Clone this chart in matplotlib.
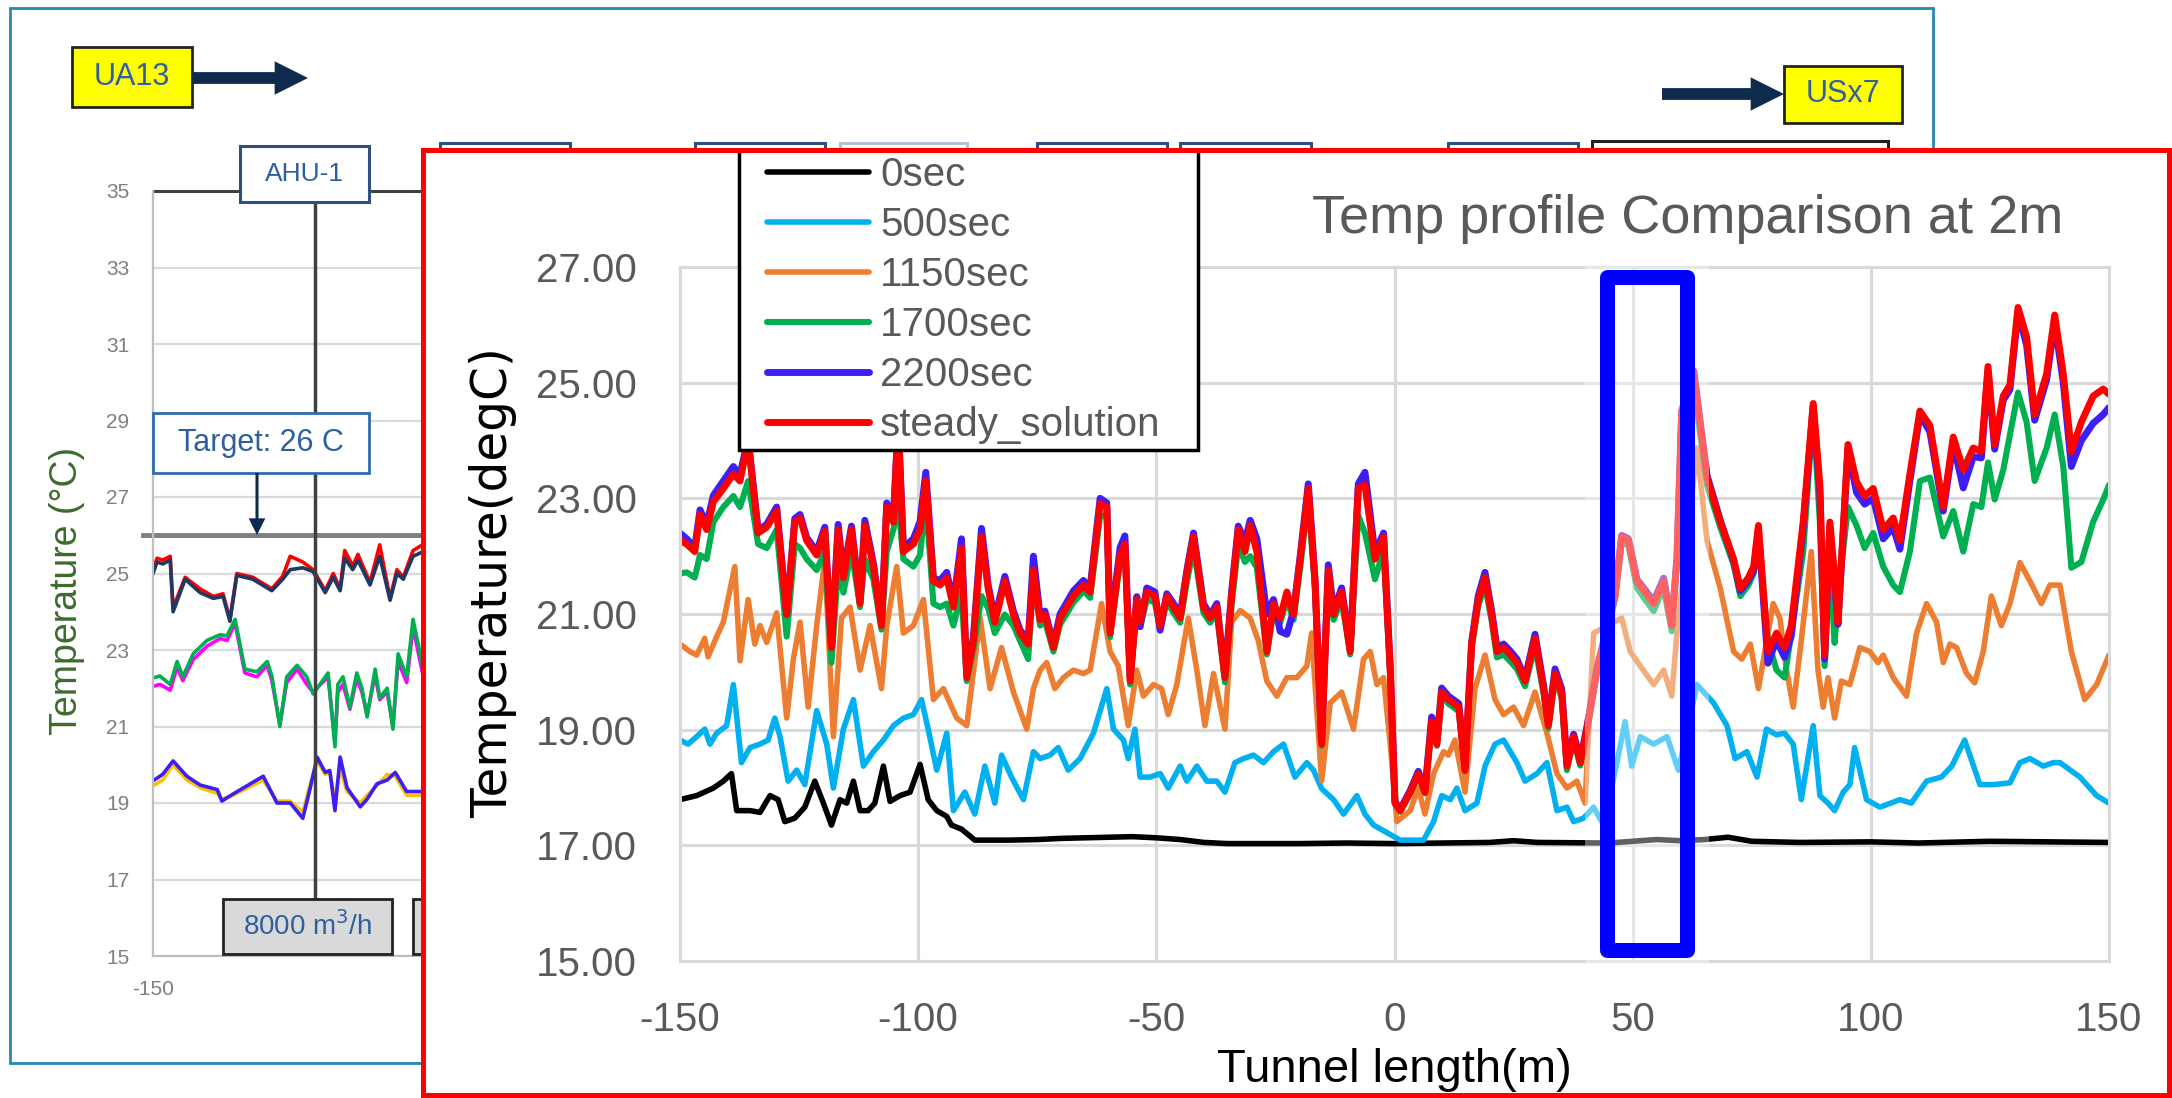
import matplotlib

matplotlib.use("Agg")
import matplotlib.pyplot as plt
from matplotlib.legend_handler import HandlerLine2D
from matplotlib.lines import Line2D
from matplotlib.patches import ArrowStyle, FancyArrowPatch, Rectangle
from matplotlib.ticker import FormatStrFormatter

# ---- main chart data (tunnel position in m, temperature in degC) ----
x_hot = [
    -150.0, -148.6, -146.9, -145.8, -144.4, -143.0, -140.9, -138.8, -137.4, -135.7,
    -133.6, -131.8, -129.7, -127.6, -125.9, -124.8, -123.4, -121.3, -119.6, -118.2,
    -116.8, -115.7, -114.0, -112.2, -111.2, -109.4, -107.7, -106.6, -105.2, -104.2,
    -103.1, -101.0, -99.6, -98.4, -96.8, -95.4, -94.0, -92.6, -90.9, -89.8,
    -88.4, -86.7, -85.3, -83.9, -81.8, -80.0, -78.6, -76.9, -75.8, -74.4,
    -73.4, -71.6, -70.2, -67.4, -65.3, -63.9, -61.8, -60.4, -59.7, -57.6,
    -56.6, -55.5, -54.1, -53.4, -52.0, -50.3, -49.2, -47.8, -46.4, -45.0,
    -43.6, -42.2, -40.1, -38.7, -37.3, -35.6, -34.2, -32.8, -31.4, -30.3,
    -28.9, -26.8, -25.4, -24.0, -22.6, -21.2, -19.8, -18.1, -16.7, -15.3,
    -13.9, -12.8, -11.1, -9.3, -7.6, -6.2, -4.1, -2.3, -0.9, 0.1,
    1.2, 3.3, 5.0, 6.4, 7.8, 8.9, 9.9, 11.3, 13.5, 14.8,
    16.2, 17.6, 19.0, 20.4, 21.5, 22.9, 24.3, 25.7, 27.4, 29.5,
    31.3, 32.3, 33.7, 35.1, 36.2, 37.6, 39.0, 40.4, 42.5, 46.3,
    47.7, 49.1, 50.9, 52.6, 54.4, 56.5, 58.2, 59.3, 60.3, 62.8,
    65.6, 68.4, 71.2, 72.6, 74.3, 75.4, 76.4,
    78.4, 80.2, 81.9, 83.3, 85.8, 87.9, 89.3, 90.3, 91.4, 92.4,
    93.1, 95.2, 97.0, 98.7, 100.5, 102.6, 104.7, 106.1, 108.2, 110.3,
    112.4, 115.2, 117.3, 119.4, 121.5, 123.2, 124.6, 126.0, 127.8, 129.2,
    130.9, 132.7, 134.4, 136.9, 138.6, 140.4, 142.1, 144.2, 146.7, 148.8,
    150.0,
]

t_steady = [
    22.27, 22.21, 22.08, 22.72, 22.46, 22.94, 23.17, 23.42, 23.30, 24.00,
    22.40, 22.50, 22.78, 20.99, 22.59, 22.66, 22.27, 22.02, 22.43, 20.42,
    22.46, 21.63, 22.46, 21.18, 22.53, 21.82, 20.80, 22.85, 22.59, 24.30,
    22.08, 22.21, 22.46, 23.30, 21.57, 21.50, 21.63, 21.12, 22.14, 19.90,
    20.54, 22.34, 21.44, 20.86, 21.57, 20.99, 20.67, 20.48, 21.76, 20.90,
    20.99, 20.42, 20.93, 21.31, 21.50, 21.38, 22.91, 22.85, 20.67, 22.02,
    22.21, 19.84, 21.25, 20.87, 21.38, 21.31, 20.80, 21.31, 21.12, 20.93,
    21.70, 22.34, 21.12, 20.93, 21.12, 19.90, 21.31, 22.46, 22.08, 22.53,
    22.08, 20.35, 21.18, 20.93, 21.38, 20.99, 21.95, 23.17, 21.57, 18.75,
    21.76, 20.99, 21.38, 20.35, 23.17, 23.23, 21.95, 22.34, 20.03, 17.73,
    17.60, 17.92, 18.24, 17.92, 19.14, 18.75, 19.65, 19.52, 19.39, 18.30,
    20.48, 21.25, 21.63, 20.99, 20.35, 20.42, 20.29, 20.16, 19.84, 20.58,
    19.71, 19.07, 19.97, 19.65, 18.37, 18.88, 18.43, 19.01, 20.03, 21.31,
    22.34, 22.27, 21.57, 21.38, 21.18, 21.57, 20.80, 21.95, 24.51, 25.20,
    23.36, 22.59, 21.95, 21.44, 21.63, 21.82, 22.53,
    20.35, 20.67, 20.42, 20.80, 22.59, 24.64, 23.23, 20.29, 22.59, 21.63,
    20.86, 23.93, 23.29, 23.04, 23.17, 22.46, 22.66, 22.27, 23.42, 24.51,
    24.26, 22.85, 24.06, 23.49, 23.87, 23.81, 25.28, 23.93, 24.77, 24.96,
    26.30, 25.79, 24.45, 25.15, 26.17, 25.15, 23.81, 24.32, 24.77, 24.89,
    24.80,
]

t_2200 = [
    22.40, 22.30, 22.15, 22.80, 22.55, 23.05, 23.30, 23.55, 23.40, 24.05,
    22.45, 22.55, 22.85, 21.00, 22.65, 22.72, 22.32, 22.08, 22.50, 20.45,
    22.55, 21.68, 22.52, 21.22, 22.62, 21.88, 20.84, 22.92, 22.65, 24.35,
    22.15, 22.30, 22.60, 23.45, 21.62, 21.58, 21.72, 21.18, 22.30, 19.95,
    20.60, 22.48, 21.50, 20.92, 21.65, 21.05, 20.72, 20.55, 22.00, 20.95,
    21.05, 20.48, 21.00, 21.40, 21.58, 21.45, 23.00, 22.92, 20.72, 22.15,
    22.35, 19.90, 21.30, 20.78, 21.45, 21.38, 20.72, 21.35, 21.18, 20.98,
    21.75, 22.40, 21.18, 20.98, 21.18, 19.95, 21.38, 22.52, 22.25, 22.62,
    22.30, 21.00, 21.25, 20.70, 20.65, 21.05, 22.00, 23.25, 21.62, 18.80,
    21.85, 21.05, 21.45, 20.40, 23.25, 23.45, 22.05, 22.40, 20.08, 17.76,
    17.62, 17.95, 18.28, 17.95, 19.22, 18.80, 19.72, 19.58, 19.45, 18.34,
    20.52, 21.32, 21.72, 21.05, 20.42, 20.48, 20.36, 20.22, 19.88, 20.65,
    19.76, 19.12, 20.05, 19.70, 18.42, 18.92, 18.48, 19.05, 20.06, 21.33,
    22.36, 22.30, 21.60, 21.42, 21.22, 21.62, 20.84, 21.98, 24.50, 25.20,
    23.40, 22.62, 21.92, 21.40, 21.58, 21.75, 22.45,
    20.15, 20.55, 20.25, 20.62, 22.50, 24.60, 23.10, 20.22, 22.50, 21.55,
    20.82, 23.85, 23.10, 22.90, 23.00, 22.30, 22.50, 22.12, 23.30, 24.45,
    24.15, 22.78, 23.95, 23.18, 23.72, 23.70, 25.20, 23.85, 24.70, 24.88,
    26.22, 25.65, 24.35, 25.05, 26.05, 25.00, 23.55, 24.00, 24.30, 24.45,
    24.57,
]

t_1700 = [
    21.70, 21.72, 21.63, 22.02, 21.95, 22.59, 22.85, 23.04, 22.85, 23.30,
    22.21, 22.14, 22.46, 20.61, 22.21, 22.14, 21.95, 21.76, 22.08, 20.16,
    21.82, 21.37, 22.10, 21.12, 21.95, 21.60, 20.73, 22.08, 22.46, 22.90,
    21.95, 21.82, 22.02, 23.00, 21.18, 21.12, 21.18, 20.80, 21.37, 19.84,
    20.40, 21.31, 21.10, 20.67, 20.99, 20.80, 20.54, 20.22, 21.63, 20.80,
    20.88, 20.35, 20.82, 21.20, 21.40, 21.28, 22.70, 22.70, 20.60, 21.92,
    22.10, 19.78, 21.12, 20.78, 21.25, 21.20, 20.72, 21.22, 21.02, 20.85,
    21.55, 22.15, 21.02, 20.85, 21.02, 19.82, 21.15, 22.20, 21.90, 22.00,
    21.80, 20.30, 21.05, 20.85, 21.25, 20.90, 21.80, 23.00, 21.45, 18.72,
    21.65, 20.90, 21.25, 20.30, 22.70, 22.40, 21.60, 22.10, 19.95, 17.72,
    17.58, 17.90, 18.20, 17.90, 19.10, 18.72, 19.60, 19.45, 19.32, 18.28,
    20.42, 21.15, 21.50, 20.88, 20.25, 20.30, 20.18, 20.05, 19.75, 20.45,
    19.62, 19.02, 19.88, 19.55, 18.30, 18.82, 18.38, 18.98, 19.98, 21.25,
    22.25, 22.18, 21.45, 21.25, 21.05, 21.45, 20.70, 21.90, 24.40, 24.96,
    23.23, 22.50, 21.85, 21.31, 21.50, 21.70, 22.30,
    20.55, 20.03, 19.90, 20.67, 22.08, 24.51, 22.59, 20.10, 21.95, 20.50,
    21.30, 22.85, 22.53, 22.14, 22.40, 21.82, 21.50, 21.38, 22.08, 23.30,
    23.36, 22.34, 22.78, 22.08, 22.90, 22.85, 23.62, 22.98, 23.49, 24.10,
    24.83, 24.32, 23.30, 23.87, 24.45, 23.55, 21.80, 21.90, 22.60, 22.98,
    23.23,
]

x_1150 = [
    -150.0, -147.9, -146.5, -144.8, -144.1, -142.3, -140.9, -138.5, -137.4, -135.7,
    -134.3, -133.2, -131.8, -129.7, -127.6, -126.2, -124.8, -123.1, -121.3, -119.6,
    -117.8, -116.1, -114.3, -112.2, -110.1, -107.7, -106.6, -104.5, -103.1, -101.0,
    -98.9, -96.8, -94.7, -91.9, -89.8, -87.0, -84.9, -82.5, -80.0, -77.2,
    -75.8, -74.4, -73.0, -71.3, -69.5, -67.4, -65.3, -63.9, -61.5, -59.7,
    -58.0, -55.9, -54.1, -52.7, -50.6, -48.9, -47.5, -45.7, -43.3, -41.5,
    -39.8, -38.0, -35.6, -34.2, -32.4, -30.3, -28.6, -26.8, -24.7, -22.6,
    -20.5, -18.4, -17.4, -15.3, -13.5, -11.1, -8.6, -6.5, -5.1, -3.7,
    -2.3, -0.9, 0.5, 3.3, 5.0, 6.4, 8.2, 10.3, 11.3, 12.7,
    14.8, 16.9, 19.0, 21.1, 22.9, 25.0, 27.1, 29.5, 32.0, 34.1,
    36.2, 38.3, 40.0, 41.8, 47.7, 49.5, 51.6, 54.4, 56.5, 58.2,
    59.3, 63.5, 65.6, 68.4, 71.2, 72.9, 74.7, 76.4, 79.5, 80.9,
    82.3, 83.7, 85.4, 87.5, 88.9, 90.0, 91.0, 92.4, 93.8, 95.6,
    97.7, 99.8, 101.5, 102.6, 104.7, 107.5, 109.6, 111.7, 113.8, 115.2,
    116.6, 118.0, 120.1, 121.8, 123.6, 125.3, 127.4, 129.2, 131.3, 133.4,
    135.8, 137.6, 139.7, 142.1, 144.9, 147.4, 150.0,
]

t_1150 = [
    20.48, 20.35, 20.29, 20.58, 20.26, 20.61, 20.86, 21.82, 20.19, 21.25,
    20.48, 20.80, 20.51, 21.02, 19.20, 20.22, 20.86, 19.39, 20.80, 21.95,
    18.88, 20.93, 21.12, 20.03, 20.80, 19.71, 20.80, 21.82, 20.67, 20.80,
    21.25, 19.52, 19.71, 19.20, 19.07, 20.93, 19.71, 20.42, 19.65, 19.01,
    19.71, 20.03, 20.16, 19.71, 19.90, 20.03, 19.97, 20.03, 21.18, 20.35,
    20.10, 19.07, 20.03, 19.58, 19.78, 19.71, 19.26, 19.78, 20.93, 20.03,
    19.07, 19.97, 19.01, 20.86, 21.06, 20.93, 20.54, 19.84, 19.58, 19.90,
    19.90, 20.10, 20.67, 18.11, 19.46, 19.65, 19.01, 20.22, 20.35, 19.78,
    19.90, 18.75, 17.41, 17.60, 17.99, 17.54, 18.24, 18.62, 18.56, 18.82,
    17.92, 19.71, 20.29, 19.52, 19.26, 19.39, 19.07, 19.65, 18.94, 18.24,
    17.99, 18.11, 17.73, 20.67, 20.93, 20.35, 20.10, 19.78, 20.03, 19.58,
    20.67, 23.87, 22.27, 21.44, 20.35, 20.22, 20.48, 19.71, 21.18, 20.93,
    20.03, 19.39, 20.54, 22.08, 20.03, 19.39, 19.90, 19.20, 19.84, 19.78,
    20.42, 20.35, 20.16, 20.29, 19.90, 19.58, 20.67, 21.18, 20.86, 20.16,
    20.48, 20.42, 19.97, 19.81, 20.35, 21.31, 20.80, 21.18, 21.89, 21.57,
    21.18, 21.50, 21.50, 20.35, 19.52, 19.78, 20.29,
]

x_500 = [
    -150.0, -148.3, -146.5, -144.8, -143.7, -142.3, -140.2, -138.8, -137.1, -135.3,
    -133.2, -131.5, -130.1, -129.0, -127.3, -125.5, -123.8, -121.3, -119.2, -117.8,
    -115.7, -113.6, -111.5, -109.4, -107.3, -105.2, -103.1, -101.0, -99.3, -97.9,
    -96.1, -94.0, -92.6, -90.2, -88.1, -86.0, -83.9, -82.5, -80.4, -77.9,
    -75.8, -74.4, -72.3, -70.6, -68.5, -66.0, -63.2, -60.4, -59.0, -56.9,
    -55.9, -54.5, -53.4, -51.3, -49.2, -47.5, -45.0, -43.6, -41.5, -39.4,
    -37.3, -35.6, -33.5, -31.7, -29.6, -27.5, -25.4, -23.3, -20.9, -18.4,
    -17.0, -15.3, -12.8, -10.7, -7.9, -6.2, -4.4, -1.6, 1.2, 6.1,
    8.2, 9.9, 11.7, 13.1, 14.8, 17.3, 19.0, 21.1, 22.9, 25.7,
    27.4, 29.9, 32.0, 34.1, 36.2, 37.6, 39.7, 41.8, 43.9, 46.7,
    48.4, 49.8, 51.6, 54.4, 57.2, 59.6, 63.5, 67.0, 69.8, 71.5,
    74.0, 76.1, 78.1, 80.2, 81.9, 83.7, 85.4, 87.9, 89.3, 91.0,
    92.4, 94.2, 95.6, 96.6, 99.1, 101.9, 106.1, 108.5, 111.7, 114.8,
    117.0, 119.7, 122.9, 125.7, 129.2, 131.3, 133.4, 136.2, 138.3, 139.7,
    143.9, 147.4, 150.0,
]

t_500 = [
    18.82, 18.75, 18.88, 19.01, 18.75, 18.94, 19.07, 19.78, 18.43, 18.69,
    18.75, 18.82, 19.20, 18.88, 18.11, 18.30, 18.05, 19.33, 18.75, 17.99,
    19.01, 19.52, 18.37, 18.62, 18.82, 19.07, 19.20, 19.26, 19.52, 19.01,
    18.30, 18.94, 17.60, 17.92, 17.54, 18.37, 17.73, 18.56, 18.18, 17.79,
    18.62, 18.50, 18.56, 18.69, 18.30, 18.50, 18.94, 19.71, 19.01, 18.82,
    18.50, 19.01, 18.18, 18.18, 18.24, 17.99, 18.37, 18.11, 18.37, 18.11,
    18.11, 17.92, 18.43, 18.50, 18.56, 18.43, 18.62, 18.75, 18.18, 18.43,
    18.30, 17.98, 17.79, 17.54, 17.86, 17.54, 17.35, 17.22, 17.09, 17.09,
    17.41, 17.86, 17.79, 17.99, 17.60, 17.73, 18.37, 18.75, 18.82, 18.43,
    18.11, 18.24, 18.43, 17.60, 17.66, 17.41, 17.47, 17.66, 17.35, 18.43,
    19.14, 18.37, 18.88, 18.75, 18.88, 18.30, 19.78, 19.46, 19.07, 18.50,
    18.62, 18.18, 19.01, 18.91, 18.94, 18.75, 17.79, 19.07, 17.86, 17.73,
    17.60, 17.92, 18.05, 18.69, 17.79, 17.66, 17.79, 17.73, 18.11, 18.18,
    18.37, 18.82, 18.05, 18.05, 18.08, 18.43, 18.50, 18.37, 18.43, 18.43,
    18.18, 17.86, 17.73,
]

x_0 = [
    -150.0, -146.5, -143.0, -140.9, -139.2, -138.1, -135.3, -133.2, -131.1, -129.4,
    -128.0, -125.9, -123.8, -121.7, -119.9, -118.2, -116.4, -115.0, -113.6, -112.2,
    -110.5, -109.1, -107.3, -105.9, -103.8, -101.7, -99.6, -97.9, -96.1, -94.0,
    -93.0, -90.9, -88.1, -84.9, -80.7, -75.0, -70.0, -65.0, -60.0, -55.0,
    -50.0, -45.0, -40.0, -35.0, -20.0, -10.0, 0.0, 10.0, 20.0, 25.0,
    30.0, 45.0, 55.0, 60.0, 65.0, 70.0, 75.0, 85.0, 100.0, 110.0,
    125.0, 150.0,
]

t_0 = [
    17.79, 17.86, 17.99, 18.11, 18.24, 17.60, 17.60, 17.57, 17.86, 17.79,
    17.41, 17.47, 17.66, 18.11, 17.73, 17.35, 17.79, 17.73, 18.11, 17.60,
    17.60, 17.73, 18.37, 17.76, 17.86, 17.92, 18.40, 17.79, 17.60, 17.50,
    17.35, 17.28, 17.09, 17.09, 17.09, 17.10, 17.12, 17.13, 17.14, 17.15,
    17.13, 17.10, 17.05, 17.03, 17.03, 17.04, 17.03, 17.04, 17.05, 17.08,
    17.05, 17.04, 17.10, 17.08, 17.10, 17.14, 17.07, 17.05, 17.06, 17.04,
    17.07, 17.05,
]

# highlighted section of the tunnel (m) and its temperature span
box_x = [44.6, 61.4]
box_t = [15.19, 26.82]

# ---- background chart data (only its left end is visible) ----
bg_x_top = [
    -150.0, -149.3, -148.3, -147.0, -146.5, -144.4, -141.8, -139.5, -137.8, -136.6,
    -135.4, -132.6, -129.3, -127.4, -126.1, -123.9, -122.1, -120.0, -118.6, -117.4,
    -116.6, -115.2, -114.3, -112.2, -110.5, -108.7, -107.5, -106.4, -104.7, -102.5,
]
bg_red = [
    25.10, 25.40, 25.35, 25.45, 24.10, 24.90, 24.60, 24.40, 24.47, 23.80,
    25.00, 24.90, 24.60, 24.93, 25.45, 25.30, 25.10, 24.55, 25.00, 24.60,
    25.60, 25.20, 25.50, 24.76, 25.75, 24.35, 25.10, 24.90, 25.60, 25.80,
]
bg_navy = [
    25.00, 25.30, 25.25, 25.35, 24.00, 24.85, 24.50, 24.35, 24.40, 23.75,
    24.95, 24.85, 24.55, 24.85, 25.10, 25.15, 25.05, 24.50, 24.90, 24.55,
    25.40, 25.10, 25.35, 24.70, 25.45, 24.30, 25.00, 24.85, 25.45, 25.60,
]

bg_x_mid = [
    -150.0, -148.8, -147.0, -145.8, -144.8, -143.0, -140.6, -138.3, -137.1, -135.7,
    -134.0, -131.9, -130.1, -129.3, -127.9, -126.7, -124.9, -123.2, -122.1, -119.5,
    -118.3, -117.8, -116.9, -115.7, -114.5, -113.6, -112.7, -111.3, -110.5, -109.2,
    -108.2, -107.3, -105.8, -104.7, -102.5,
]
bg_green = [
    22.27, 22.32, 22.10, 22.70, 22.30, 22.90, 23.25, 23.40, 23.37, 23.80,
    22.50, 22.43, 22.70, 22.32, 21.00, 22.30, 22.60, 22.30, 21.85, 22.40,
    20.47, 22.10, 22.30, 21.50, 22.40, 22.00, 21.25, 22.50, 21.75, 22.00,
    20.93, 22.90, 22.30, 23.80, 22.20,
]
bg_magenta = [
    22.05, 22.10, 21.95, 22.55, 22.20, 22.75, 23.10, 23.30, 23.25, 23.70,
    22.40, 22.30, 22.60, 22.20, 21.05, 22.15, 22.50, 22.10, 21.90, 22.30,
    20.60, 21.90, 22.10, 21.45, 22.25, 21.90, 21.30, 22.35, 21.70, 21.90,
    21.00, 22.70, 22.15, 23.60, 22.00,
]

bg_x_low = [
    -150.0, -148.3, -146.5, -144.1, -141.8, -138.8, -138.0, -136.1, -130.8, -128.4,
    -126.1, -123.9, -122.6, -121.4, -120.0, -119.2, -118.3, -117.4, -116.2, -113.9,
    -112.7, -111.0, -109.2, -107.8, -105.8, -102.5,
]
bg_blue = [
    19.58, 19.75, 20.10, 19.70, 19.47, 19.35, 19.05, 19.23, 19.70, 19.00,
    19.00, 18.60, 19.40, 20.20, 19.80, 19.85, 18.80, 20.20, 19.40, 18.90,
    19.10, 19.50, 19.60, 19.80, 19.30, 19.30,
]
bg_orange = [
    19.45, 19.60, 20.00, 19.60, 19.40, 19.25, 19.10, 19.20, 19.60, 19.05,
    19.05, 18.75, 19.50, 20.10, 19.75, 19.80, 19.10, 19.90, 19.30, 19.00,
    19.20, 19.45, 19.75, 19.70, 19.20, 19.20,
]

ahu_x = -121.8
target_t = 26

W, H = 2172, 1098
NAVY = "#0e2a4d"
BOX_BLUE = "#2e5fa0"
GRAY_TXT = "#595959"

plt.rcParams["font.family"] = ["Liberation Sans", "DejaVu Sans"]
plt.rcParams["axes.unicode_minus"] = False
fig = plt.figure(figsize=(W / 100, H / 100), dpi=100)


def fx(px):
    return px / W


def fy(py):
    return 1 - py / H


def box(x0, y0, x1, y1, text="", face="white", edge="#2f4f7f", tcolor=BOX_BLUE, size=18, lw=2.0, z=2):
    fig.add_artist(Rectangle((fx(x0), fy(y1)), (x1 - x0) / W, (y1 - y0) / H,
                             transform=fig.transFigure, facecolor=face, edgecolor=edge,
                             linewidth=lw, zorder=z))
    if text:
        fig.text(fx((x0 + x1) / 2), fy((y0 + y1) / 2), text, ha="center", va="center",
                 color=tcolor, fontsize=size, zorder=z + 0.1)


def arrow(x0, y0, x1, y1, head=2.4, tail=0.85, scale=10, z=2):
    style = ArrowStyle.Simple(head_length=head, head_width=head, tail_width=tail)
    fig.add_artist(FancyArrowPatch((fx(x0), fy(y0)), (fx(x1), fy(y1)), transform=fig.transFigure,
                                   arrowstyle=style, mutation_scale=scale, color=NAVY, lw=0,
                                   shrinkA=0, shrinkB=0, zorder=z))


# ---------------- background slide ----------------
ax_bg = fig.add_axes([fx(153), fy(956), 1722 / W, (956 - 191) / H], zorder=0)
ax_bg.set_xlim(-150, 150)
ax_bg.set_ylim(15, 35)
ax_bg.set_yticks(range(15, 36, 2))
ax_bg.set_xticks(range(-150, 151, 50))
ax_bg.grid(axis="y", color="#d9d9d9", lw=1.6)
ax_bg.set_axisbelow(True)
for side in ["top", "right"]:
    ax_bg.spines[side].set_visible(False)
for side in ["left", "bottom"]:
    ax_bg.spines[side].set_color("#bfbfbf")
    ax_bg.spines[side].set_linewidth(1.6)
ax_bg.tick_params(length=0, labelsize=15, labelcolor="#7f7f7f", pad=17)

ax_bg.plot(bg_x_top, bg_red, color="#ff0000", lw=2.6)
ax_bg.plot(bg_x_top, bg_navy, color="#1f3864", lw=2.6)
ax_bg.plot(bg_x_mid, bg_magenta, color="#ff00ff", lw=2.6)
ax_bg.plot(bg_x_mid, bg_green, color="#00b050", lw=2.6)
ax_bg.plot(bg_x_low, bg_orange, color="#ffc000", lw=2.6)
ax_bg.plot(bg_x_low, bg_blue, color="#3c1ef7", lw=2.6)
ax_bg.axhline(target_t, xmin=-0.006, color="#7f7f7f", lw=3.5, clip_on=False)
ax_bg.axhline(35, color="#404040", lw=2.2, clip_on=False)
ax_bg.axvline(ahu_x, ymin=0, ymax=0.9855, color="#404040", lw=2.5)

fig.text(fx(67), fy(591), "Temperature (°C)", rotation=90, ha="center", va="center",
         color="#3d6b2d", fontsize=27, zorder=3)

fig.add_artist(Rectangle((fx(10), fy(1063)), 1923 / W, 1055 / H, transform=fig.transFigure,
                         fill=False, edgecolor="#2389b0", linewidth=2.0, zorder=1))

box(72, 47, 192, 107, "UA13", face="#ffff00", edge="#222222", size=22)
arrow(192, 78, 308, 78)
box(1784, 66, 1902, 123, "USx7", face="#ffff00", edge="#222222", size=22)
arrow(1662, 94, 1784, 94)
box(240, 146, 369, 202, "AHU-1", size=19, lw=2.2)
for bx0, bx1 in [(440, 570), (695, 825), (1037, 1167), (1180, 1311), (1448, 1578)]:
    box(bx0, 143, bx1, 199, lw=2.2)
box(840, 143, 967, 199, edge="#b8c2d6", lw=2.2)
box(1592, 141, 1888, 199, edge="#222222", lw=2.2)
box(153, 413, 369, 473, "Target: 26 C", edge="#2e6bb0", size=22)
arrow(257, 473, 257, 535, head=1.2, tail=0.22)
box(223, 899, 392, 954, "8000 m$^3$/h", face="#d9d9d9", edge="#222222", size=20)
box(413, 899, 560, 954, face="#d9d9d9", edge="#222222")

# ---------------- overlay chart ----------------
fig.add_artist(Rectangle((fx(423), fy(1095)), (2169 - 423) / W, (1095 - 150) / H,
                         transform=fig.transFigure, facecolor="white", edgecolor="none", zorder=5))
fig.add_artist(Rectangle((fx(423), fy(1095)), (2169 - 423) / W, (1095 - 150) / H,
                         transform=fig.transFigure, fill=False, edgecolor="#ff0000",
                         linewidth=3.6, zorder=8))

ax = fig.add_axes([fx(680), fy(961), 1429 / W, 694 / H], zorder=6)
ax.set_xlim(-150, 150)
ax.set_ylim(15, 27)
ax.set_xticks(range(-150, 151, 50))
ax.set_yticks(range(15, 28, 2))
ax.yaxis.set_major_formatter(FormatStrFormatter("%.2f"))
ax.grid(True, color="#d9d9d9", lw=2.2)
ax.set_axisbelow(True)
for side in ax.spines.values():
    side.set_color("#d9d9d9")
    side.set_linewidth(2.2)
ax.tick_params(length=0, labelsize=29, labelcolor=GRAY_TXT)
ax.tick_params(axis="y", pad=31)
ax.tick_params(axis="x", pad=29)

kw = dict(solid_joinstyle="round", solid_capstyle="round")
h0, = ax.plot(x_0, t_0, color="#000000", lw=4.0, label="0sec", **kw)
h1, = ax.plot(x_500, t_500, color="#00b0f0", lw=4.0, label="500sec", **kw)
h2, = ax.plot(x_1150, t_1150, color="#ed7d31", lw=4.0, label="1150sec", **kw)
h3, = ax.plot(x_hot, t_1700, color="#00b050", lw=4.4, label="1700sec", **kw)
h4, = ax.plot(x_hot, t_2200, color="#3c1ef7", lw=5.0, label="2200sec", **kw)
h5, = ax.plot(x_hot, t_steady, color="#ff0000", lw=5.0, label="steady_solution", **kw)

# faded glow and the blue highlight frame
ax.add_patch(Rectangle((box_x[0] - 4.6, box_t[0] - 0.35), box_x[1] - box_x[0] + 9.2,
                       box_t[1] - box_t[0] + 0.7, facecolor="white", alpha=0.38,
                       edgecolor="none", zorder=3, clip_on=False))
ax.add_patch(Rectangle((box_x[0], box_t[0]), box_x[1] - box_x[0], box_t[1] - box_t[0],
                       fill=False, edgecolor="#0000ff", linewidth=10.8, joinstyle="round",
                       zorder=4, clip_on=False))

leg = ax.legend(handles=[h0, h1, h2, h3, h4, h5], loc="upper left",
                bbox_to_anchor=(fx(739), fy(450), 459 / W, 300 / H),
                bbox_transform=fig.transFigure, mode="expand", borderaxespad=0,
                frameon=True, fancybox=False, edgecolor="black", framealpha=1,
                fontsize=29, handlelength=3.08, handletextpad=0.27, borderpad=0.15,
                labelspacing=0.3, handler_map={Line2D: HandlerLine2D(xpad=0.55)})
leg.get_frame().set_linewidth(2.5)
for t in leg.get_texts():
    t.set_color(GRAY_TXT)

ax.set_xlabel("Tunnel length(m)", fontsize=34, color="black")
ax.xaxis.set_label_coords(0.5, -0.126)
ax.set_ylabel("Temperature(degC)", fontsize=35, color="black", family=["DejaVu Sans"])
ax.yaxis.set_label_coords(-0.114, 0.546)

fig.text(fx(1688), fy(233), "Temp profile Comparison at 2m", ha="center", va="baseline",
         fontsize=39, color=GRAY_TXT, zorder=7)

fig.savefig("out.png", dpi=100)
